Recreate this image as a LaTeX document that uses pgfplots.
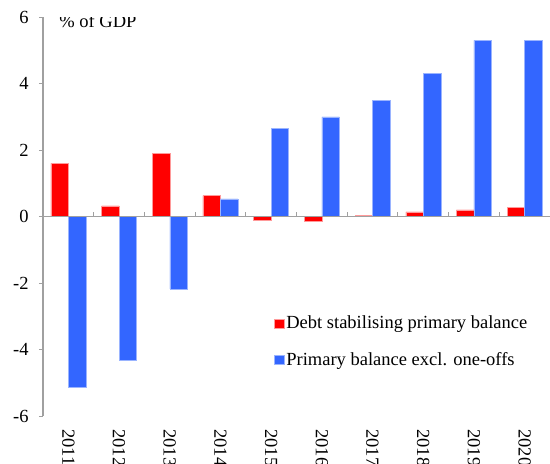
\documentclass[border=0pt]{standalone}
\usepackage{pgfplots}
\pgfplotsset{compat=1.18}
\usepackage{fontspec}
\setmainfont{Liberation Serif}

\definecolor{debtred}{HTML}{FF0000}
\definecolor{debtedge}{HTML}{FF9A9A}
\definecolor{pbblue}{HTML}{3366FF}
\definecolor{pbedge}{HTML}{9AB4FF}
\definecolor{axgray}{HTML}{A0A0A0}

\begin{document}
\fontsize{18.5}{22}\selectfont
\begin{tikzpicture}
\begin{axis}[
    scale only axis,
    width=507pt, height=399pt,
    ybar=0pt, bar width=17.5pt,
    xmin=-0.5, xmax=9.5,
    ymin=-6, ymax=6,
    ytick={-6,-4,...,6},
    xtick={0,...,9},
    xticklabels={2011,2012,2013,2014,2015,2016,2017,2018,2019,2020},
    axis y line*=left, axis x line*=bottom,
    x axis line style={draw=none},
    y axis line style={axgray, line width=1.2pt, -},
    ytick style={axgray, line width=1pt},
    xtick style={draw=none},
    tick align=outside,
    major tick length=4pt,
    /pgf/number format/assume math mode=true,
    ticklabel style={font=\fontsize{18.5}{22}\selectfont},
    xticklabel style={rotate=-90, anchor=west},
    xticklabel shift=3pt,
    yticklabel style={xshift=-4pt},
    legend style={draw=none, fill=none, at={(axis description cs:0.45,0.262)},
        anchor=north west, row sep=17pt, font=\fontsize{18.5}{22}\selectfont},
    legend cell align=left,
    legend image code/.code={\fill[#1] (0pt,-4.5pt) rectangle (9.5pt,4.5pt);},
]
\addplot[fill=debtred, draw=debtedge, line width=0.5pt] coordinates {
    (0,1.6) (1,0.32) (2,1.9) (3,0.63) (4,-0.1)
    (5,-0.15) (6,0.03) (7,0.14) (8,0.2) (9,0.28)};
\addplot[fill=pbblue, draw=pbedge, line width=0.5pt] coordinates {
    (0,-5.15) (1,-4.32) (2,-2.18) (3,0.53) (4,2.66)
    (5,3.0) (6,3.5) (7,4.3) (8,5.3) (9,5.3)};
\legend{Debt stabilising primary balance, Primary balance excl. one-offs}

% zero line with category separators
\draw[axgray, line width=1.2pt] (axis cs:-0.5,0) -- (axis cs:9.5,0);
\pgfplotsinvokeforeach{0.5,1.5,2.5,3.5,4.5,5.5,6.5,7.5,8.5}{
    \draw[axgray, line width=1pt] (axis cs:#1,0) -- ([yshift=5pt]axis cs:#1,0);
}
\node[anchor=west, inner sep=0pt] at (rel axis cs:0.032,0.99) {\% of GDP};
\end{axis}
\pgfresetboundingbox
\path[use as bounding box] ([xshift=-43pt,yshift=-47pt]current axis.south west)
    rectangle ([yshift=17pt]current axis.north east);
\end{tikzpicture}
\end{document}
